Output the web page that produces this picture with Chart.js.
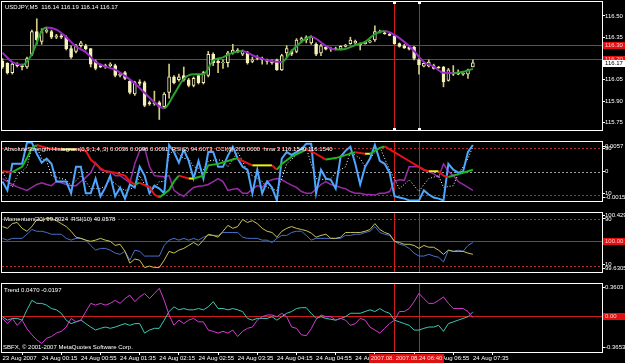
<!DOCTYPE html>
<html><head><meta charset="utf-8">
<script src="https://cdn.jsdelivr.net/npm/chart.js@4"></script>
<style>
html,body{margin:0;padding:0;background:#000;}
#wrap{position:relative;width:625px;height:363px;background:#000;overflow:hidden;}
#wrap canvas{position:absolute;left:0;}
</style></head><body>
<div id="wrap">
<canvas id="p1" style="top:0" width="625" height="141"></canvas>
<canvas id="p2" style="top:141px" width="625" height="71"></canvas>
<canvas id="p3" style="top:212px" width="625" height="71"></canvas>
<canvas id="p4" style="top:283px" width="625" height="80"></canvas>
</div>
<script>
/* ---------- data ---------- */
const timeTickBars=[0,8,16,24,32,40,48,56,64,72,80,88,96];
const timeTickText=['23 Aug 2007','24 Aug 00:15','24 Aug 00:55','24 Aug 01:35','24 Aug 02:15','24 Aug 02:55',
  '24 Aug 03:35','24 Aug 04:15','24 Aug 04:55','24 Aug 05:35','24 Aug 06:15','24 Aug 06:55','24 Aug 07:35'];
const markBars=[80,85];
const markText=['2007.08.24 06:15','2007.08.24 06:40'];

/* price panel, M5 candles */
const open=[116.18,116.165,116.10,116.16,116.15,116.14,116.23,116.39,116.32,116.39,
116.39,116.35,116.36,116.35,116.27,116.25,116.29,116.29,116.27,116.18,
116.15,116.14,116.15,116.15,116.08,116.10,116.04,115.95,116.035,116.03,
115.89,115.88,115.89,115.86,115.96,116.07,116.05,116.08,116.05,116.01,
116.08,116.03,116.08,116.23,116.18,116.17,116.17,116.24,116.26,116.23,
116.24,116.18,116.20,116.20,116.19,116.18,116.19,116.12,116.24,116.25,
116.25,116.33,116.33,116.31,116.30,116.24,116.28,116.265,116.27,116.265,
116.285,116.305,116.31,116.305,116.305,116.315,116.33,116.39,116.38,116.37,
116.36,116.305,116.29,116.28,116.28,116.19,116.145,116.145,116.15,116.14,
116.14,116.045,116.09,116.095,116.09,116.09,116.14];
const high=[116.20,116.17,116.17,116.17,116.16,116.21,116.40,116.48,116.41,116.42,
116.40,116.37,116.37,116.36,116.29,116.30,116.32,116.30,116.27,116.19,
116.16,116.16,116.17,116.16,116.10,116.11,116.05,116.04,116.05,116.04,
115.90,115.97,115.90,115.96,116.16,116.08,116.09,116.14,116.06,116.07,
116.09,116.11,116.25,116.24,116.20,116.19,116.25,116.30,116.27,116.26,
116.25,116.21,116.22,116.21,116.195,116.19,116.195,116.23,116.29,116.26,
116.34,116.35,116.36,116.36,116.31,116.30,116.29,116.28,116.28,116.29,
116.30,116.35,116.33,116.31,116.32,116.33,116.43,116.40,116.39,116.38,
116.365,116.31,116.30,116.29,116.285,116.20,116.17,116.19,116.16,116.145,
116.145,116.13,116.15,116.12,116.10,116.125,116.19];
const low=[116.13,116.09,116.09,116.14,116.12,116.13,116.22,116.30,116.30,116.38,
116.34,116.34,116.34,116.26,116.20,116.24,116.28,116.26,116.14,116.12,
116.135,116.13,116.14,116.07,116.07,116.05,115.95,115.94,116.01,115.86,
115.87,115.87,115.77,115.85,115.92,116.02,116.04,116.04,116.00,116.00,
116.02,116.02,116.07,116.15,116.10,116.13,116.14,116.23,116.24,116.22,
116.16,116.17,116.19,116.16,116.16,116.16,116.115,116.115,116.21,116.22,
116.24,116.31,116.31,116.30,116.22,116.22,116.26,116.25,116.26,116.26,
116.28,116.30,116.30,116.26,116.30,116.31,116.32,116.38,116.37,116.36,
116.30,116.28,116.27,116.26,116.19,116.09,116.14,116.14,116.125,116.13,
116.00,116.04,116.08,116.085,116.08,116.06,116.14];
const close=[116.14,116.10,116.16,116.15,116.14,116.20,116.39,116.33,116.39,116.40,
116.35,116.36,116.35,116.27,116.21,116.29,116.31,116.27,116.16,116.13,
116.14,116.15,116.16,116.08,116.09,116.06,115.96,116.03,116.025,115.87,
115.88,115.89,115.86,115.95,116.07,116.03,116.07,116.05,116.01,116.06,
116.03,116.10,116.23,116.17,116.17,116.175,116.24,116.26,116.25,116.25,
116.17,116.19,116.21,116.19,116.18,116.17,116.12,116.22,116.27,116.23,
116.33,116.34,116.35,116.35,116.23,116.29,116.265,116.27,116.265,116.285,
116.295,116.33,116.32,116.295,116.315,116.325,116.39,116.385,116.375,116.362,
116.305,116.285,116.275,116.265,116.20,116.155,116.165,116.175,116.13,116.135,
116.035,116.12,116.095,116.09,116.095,116.12,116.17];
const maBars=[0,2,4,6,8,9,11,13,15,17,19,21,23,25,27,29,31,33,35,37,39,41,43,45,47,49,51,53,55,57,59,61,63,64,66,68,70,72,74,76,78,80,82,84,86,88,90,92,94,96];
const maVals=[116.241,116.175,116.154,116.230,116.393,116.419,116.404,116.350,116.284,116.245,116.175,116.143,116.121,116.077,116.023,115.958,115.892,115.849,115.947,116.056,116.088,116.088,116.186,116.208,116.241,116.252,116.223,116.197,116.180,116.175,116.252,116.317,116.354,116.339,116.289,116.263,116.267,116.295,116.317,116.371,116.393,116.367,116.317,116.252,116.175,116.143,116.099,116.097,116.106,116.127];
const priceTicks=[116.50,116.35,116.20,116.05,115.90,115.75];
const priceLevels=[116.295,116.197];

/* absolute strength / RSI / CCI window (0..100 level scale) */
const ashBlue=[33,18,63,63,63,99,99,80,65,72,63,33,33,33,13,58,58,13,13,38,
8,23,43,8,23,4,28,23,58,43,13,26,21,13,95,83,65,87,68,38,
68,38,83,83,58,58,77,92,72,58,53,13,53,13,33,23,1,72,83,78,
83,88,97,97,13,53,38,36,21,75,85,92,63,28,58,72,95,68,63,48,
8,6,4,1,1,1,18,11,6,4,1,63,53,48,50,83,95];
const ashPurple=[38,33,28,24,21,18,23,28,31,28,26,33,31,28,26,26,33,40,48,65,
53,51,50,43,43,37,31,63,85,90,58,43,42,41,43,18,12,8,16,23,
25,26,28,33,38,33,18,20,21,13,13,20,26,23,33,36,38,36,31,27,
23,16,13,13,20,28,33,28,26,23,21,16,13,13,11,11,10,13,13,16,
33,36,35,58,58,58,52,50,46,40,63,50,43,33,28,23,18];
const ashWhiteBars=[0,2,3,5,6,7,8,9,10,12,13,14,16,17,18,20,21,22,24,25,27,28,29,31,32,33,34,35,37,38,39,41,42,44,45,46,48,49,50,52,53,54,56,57,58,60,61,62,63,64,66,67,68,70,71,73,74,75,77,78,79,81,82,83,85,86,87,89,90,92,93,94,95,96];
const ashWhite=[48,23,43,58,92,92,72,68,43,38,36,26,43,33,21,21,26,36,23,18,23,43,28,21,33,33,78,87,72,72,58,53,68,70,68,58,83,68,48,38,33,23,18,38,63,78,88,90,63,38,36,38,48,58,83,72,58,72,92,72,53,21,28,36,16,28,38,43,23,26,46,58,72,92];
const ashTrendBars=[0,2,4,5,6,7,9,12,14,15,17,18,20,21,23,25,26,27,28,30,31,32,34,35,36,38,39,41,42,44,47,48,49,51,53,55,56,57,59,61,62,64,66,68,70,72,74,75,77,78,79,81,83,85,86,87,89,90,91,93,94,96];
const ashTrend=[50.4,49,57.9,72.7,90,94.9,90,87.5,87.5,87.5,85.1,70.3,55.5,50.4,48,43,33.2,28.3,30.7,23.3,11,6,18.4,33.2,43,38.1,38.1,43,60.4,62.9,70.3,72.7,67.8,60.4,60.4,60.4,53,62.9,75.2,83,87.5,80,70.3,72.7,77.7,82.6,80.1,80.1,90,92.5,87.5,77.7,67.8,57.9,53,50.4,50.4,43,40.6,45.5,48,53];
const p2TickVals=[93,88.5,50,12.5,6.5];
const p2TickText=['0.0057','90','0','10','-0.0015'];

/* momentum / RSI window */
const rsiVals=[77,74,82,84,74,69,77,89,87,91,91,87,82,77,69,59,57,54,52,54,
57,54,52,45,47,35,15,22,20,7.5,10,7.5,7.5,20,35,32,37,40,45,50,
45,54,64,62,59,69,79,74,77,89,84,87,82,74,69,67,59,69,74,77,
74,72,70,66,59,62,64,57,57,59,67,67,67,67,69,72,82,72,67,64,
52,50,47,47,45,40,45,42,42,37,30,37,35,35,35,32,30];
const momVals=[57,54,57,57,57,64,72,69,69,67,64,64,64,57,54,57,57,54,45,37,
40,40,37,32,30,35,20,37,35,27,27,27,27,45,54,57,54,57,54,57,
54,59,62,62,62,67,67,67,67,59,57,57,57,54,54,50,57,62,62,67,
69,69,62,54,57,57,57,57,57,57,62,62,64,64,67,69,77,67,64,62,
52,47,45,40,32,27,27,30,27,25,17,37,35,37,35,45,50];
const p3TickVals=[95.5,90,12.5,5.5];
const p3TickText=['100.4295','90','10','99.6305'];
const momLevel=52;

/* trend window */
const trendMag=[-0.03,-0.09,-0.03,-0.11,-0.05,-0.15,-0.22,-0.28,-0.32,-0.26,
-0.24,-0.20,-0.18,-0.13,-0.03,-0.07,-0.05,0.05,0.145,0.125,
0.145,0.125,0.145,0.18,0.145,0.20,0.24,0.165,0.22,0.26,
0.20,0.26,0.32,0.18,0.01,-0.11,-0.05,-0.09,-0.05,-0.03,
-0.07,-0.07,-0.165,-0.18,-0.20,-0.18,-0.20,-0.165,-0.24,-0.18,
-0.145,-0.13,-0.05,-0.01,0.01,0.01,-0.01,0.03,-0.01,-0.13,
-0.145,-0.22,-0.23,-0.15,-0.04,0.01,-0.01,-0.01,-0.05,-0.03,
-0.05,-0.11,-0.09,-0.03,-0.05,-0.13,-0.165,-0.20,-0.145,-0.09,
-0.05,0.05,0.05,0.085,0.165,0.26,0.20,0.145,0.145,0.18,
0.22,0.145,0.085,0.085,0.085,0.05,-0.02];
const trendCyan=[-0.01,-0.05,-0.03,-0.03,-0.05,0.07,0.18,0.145,0.145,0.125,
0.085,0.07,0.03,-0.05,-0.09,-0.07,-0.05,-0.09,-0.13,-0.165,
-0.145,-0.13,-0.145,-0.13,-0.11,-0.09,-0.11,-0.09,-0.09,-0.20,
-0.165,-0.145,-0.145,-0.05,0.05,0.105,0.07,0.085,0.07,0.07,
0.085,0.07,0.105,0.165,0.085,0.085,0.07,0.085,0.07,0.05,
-0.03,-0.05,-0.03,-0.03,-0.03,-0.01,-0.05,-0.01,0.03,0.05,
0.085,0.095,0.095,0.03,-0.03,-0.01,-0.03,-0.04,-0.05,-0.03,
-0.01,0.03,0.03,0.03,0.05,0.07,0.05,0.085,0.05,0.03,
-0.05,-0.07,-0.09,-0.11,-0.165,-0.165,-0.145,-0.13,-0.13,-0.11,
-0.18,-0.09,-0.07,-0.05,-0.03,-0.01,0.047];
const p4TickVals=[0.335,-0.3653];
const p4TickText=['0.3603','-0.3653'];

/* ---------- helpers ---------- */
const FONT='"Liberation Sans", Arial, sans-serif';
const X_MIN=-0.1, X_MAX=122.35;
const CREAM='#f6f2bc', WICK='#cfca84', RED='#d01c1c';
const pts=(xs,ys)=>ys.map((y,i)=>({x:xs?xs[i]:i,y}));

const mt4={
  id:'mt4',
  beforeDatasetsDraw(chart,args,o){
    const {ctx,chartArea:a,scales:{x,y}}=chart;
    ctx.save();
    ctx.beginPath();ctx.rect(a.left,a.top,a.right-a.left,a.bottom-a.top);ctx.clip();
    ctx.lineWidth=1;
    (o.levels||[]).forEach(l=>{
      const py=Math.round(y.getPixelForValue(l.value))+0.5;
      ctx.strokeStyle=l.color;ctx.setLineDash(l.dash||[]);
      ctx.beginPath();ctx.moveTo(a.left,py);ctx.lineTo(a.right,py);ctx.stroke();
    });
    ctx.setLineDash([]);
    markBars.forEach(b=>{
      const px=Math.round(x.getPixelForValue(b))+0.5;
      ctx.strokeStyle=RED;ctx.beginPath();ctx.moveTo(px,a.top);ctx.lineTo(px,a.bottom);ctx.stroke();
    });
    ctx.restore();
  },
  afterDraw(chart,args,o){
    const {ctx,chartArea:a,scales:{x,y}}=chart;
    ctx.save();
    ctx.strokeStyle='#fff';ctx.lineWidth=1;
    ctx.strokeRect(a.left-0.5,a.top-0.5,a.right-a.left+1,a.bottom-a.top+1);
    if(o.anchors){
      ctx.fillStyle='#fff';
      markBars.forEach(b=>{const px=Math.round(x.getPixelForValue(b));ctx.fillRect(px-1,a.top,3,2);ctx.fillRect(px-1,a.bottom-2,3,2);});
    }
    ctx.font='6px '+FONT;ctx.textBaseline='alphabetic';ctx.fillStyle='#fff';
    (o.texts||[]).forEach(t=>ctx.fillText(t.text,t.x,t.y));
    ctx.textBaseline='middle';
    (o.boxes||[]).forEach(b=>{
      const py=Math.round(y.getPixelForValue(b.value));
      ctx.fillStyle=b.bg;ctx.fillRect(a.right+1,py-3,22,7);
      ctx.fillStyle=b.fg;ctx.fillText(b.text,a.right+3,py+0.5);
    });
    if(o.timeBoxes){
      markBars.forEach((b,i)=>{
        const px=Math.round(x.getPixelForValue(b));
        ctx.fillStyle='#e01010';ctx.fillRect(px-25,a.bottom+2,50,9);
        ctx.fillStyle='#ffd8d8';ctx.textAlign='center';ctx.fillText(markText[i],px,a.bottom+6.5);
      });
    }
    ctx.restore();
  }
};

function yAxis(min,max,vals,fmt){
  return {type:'linear',position:'right',min,max,
    afterBuildTicks:s=>{s.ticks=vals.map(v=>({value:v}));},
    afterFit:s=>{s.width=23;s.paddingTop=0;s.paddingBottom=0;},
    grid:{drawOnChartArea:false,drawTicks:true,tickLength:3,color:'#fff'},
    border:{display:false},
    ticks:{autoSkip:false,padding:0,color:'#fff',font:{family:FONT,size:6},callback:fmt}};
}
function xAxis(show){
  return {type:'linear',min:X_MIN,max:X_MAX,offset:false,display:show,
    afterBuildTicks:s=>{s.ticks=timeTickBars.map(v=>({value:v}));},
    afterFit:s=>{s.height=10;s.paddingLeft=0;s.paddingRight=0;},
    grid:{drawOnChartArea:false,drawTicks:true,tickLength:3,color:'#fff'},
    border:{display:false},
    ticks:{autoSkip:false,maxRotation:0,minRotation:0,align:'start',padding:0,color:'#fff',
      font:{family:FONT,size:6},callback:(v,i)=>timeTickText[i]}};
}
function panel(id,datasets,y,plug,pad,showTime){
  return new Chart(document.getElementById(id),{
    type:'bar',
    data:{datasets},
    options:{responsive:false,animation:false,devicePixelRatio:1,
      layout:{padding:pad},
      plugins:{legend:{display:false},tooltip:{enabled:false},mt4:plug},
      scales:{x:xAxis(showTime),y}},
    plugins:[mt4]
  });
}
const line=(data,color,w,extra)=>Object.assign({type:'line',data,borderColor:color,borderWidth:w,
  pointRadius:0,fill:false,tension:0},extra||{});

/* ---------- panel 1: price ---------- */
const bull=close.map((c,i)=>c>=open[i]);
panel('p1',[
  line(pts(maBars,maVals),'#9a28c8',2,{cubicInterpolationMode:'monotone',
    segment:{borderColor:c=>c.p1.parsed.y>=c.p0.parsed.y?'#2ca02c':'#9a28c8'}}),
  {data:open.map((o,i)=>({x:i,y:[o,close[i]]})),barThickness:3,grouped:false,borderSkipped:false,
   backgroundColor:bull.map(b=>b?'#000':CREAM),borderColor:CREAM,borderWidth:1},
  {data:low.map((l,i)=>({x:i,y:[l,high[i]]})),barThickness:1,grouped:false,borderSkipped:false,
   backgroundColor:WICK,borderWidth:0}
],yAxis(115.696,116.598,priceTicks,v=>v.toFixed(2)),{
  levels:priceLevels.map(v=>({value:v,color:RED})),anchors:true,
  texts:[{text:'USDJPY,M5  116.14 116.19 116.14 116.17',x:5,y:9}],
  boxes:[...priceLevels.map(v=>({value:v,text:v.toFixed(2),bg:'#e01010',fg:'#ffd0d0'})),
    {value:close[close.length-1],text:close[close.length-1].toFixed(2),bg:'#fff',fg:'#000'}]
},{left:2,right:0,top:2,bottom:1},false);

/* ---------- panel 2: absolute strength ---------- */
panel('p2',[
  line(pts(ashTrendBars,ashTrend),'#f0f014',2,{segment:{borderColor:c=>{
    const s=(c.p1.parsed.y-c.p0.parsed.y)/(c.p1.parsed.x-c.p0.parsed.x);
    return s>0.6?'#22b422':s<-0.6?'#e61414':'#f0f014';}}}),
  line(pts(null,ashBlue),'#4da6ff',2),
  line(pts(ashWhiteBars,ashWhite),'#ffffff',1,{borderDash:[1,2]}),
  line(pts(null,ashPurple),'#9a2aa8',1.5)
],yAxis(0,100,p2TickVals,(v,i)=>p2TickText[i]),{
  levels:[{value:90,color:'#b42828',dash:[2,2]},{value:50,color:'#a0a0a0',dash:[2,2]},{value:10,color:'#b42828',dash:[2,2]}],
  texts:[{text:'AbsoluteStrength-Histogram(0,9,1,4,,3) 0.0036 0.0096 0.0091  RSI(2) 94.6073  CCI(6) 200.0000  hma 3 116.1540 116.1540',x:4,y:10}]
},{left:2,right:0,top:1,bottom:1},false);

/* ---------- panel 3: momentum / RSI ---------- */
panel('p3',[
  line(pts(null,rsiVals),'#c8c45a',1),
  line(pts(null,momVals),'#4a70c8',1)
],yAxis(0,100,p3TickVals,(v,i)=>p3TickText[i]),{
  levels:[{value:90,color:'#b42828',dash:[2,2]},{value:momLevel,color:RED},{value:10,color:'#b42828',dash:[2,2]}],
  texts:[{text:'Momentum(20) 99.8024  RSI(10) 40.0578',x:4,y:9}],
  boxes:[{value:momLevel,text:'100.00',bg:'#e01010',fg:'#ffd0d0'}]
},{left:2,right:0,top:1,bottom:1},false);

/* ---------- panel 4: trend ---------- */
panel('p4',[
  line(pts(null,trendMag),'#d33cd3',1),
  line(pts(null,trendCyan),'#3cc8b4',1)
],yAxis(-0.42,0.37,p4TickVals,(v,i)=>p4TickText[i]),{
  levels:[{value:0,color:RED}],timeBoxes:true,
  texts:[{text:'Trend 0.0470 -0.0197',x:4,y:9},{text:'SBFX, \u00a9 2001-2007 MetaQuotes Software Corp.',x:3,y:66}],
  boxes:[{value:0,text:'0.00',bg:'#e01010',fg:'#ffd0d0'}]
},{left:2,right:0,top:1,bottom:1},true);
</script>
</body></html>
